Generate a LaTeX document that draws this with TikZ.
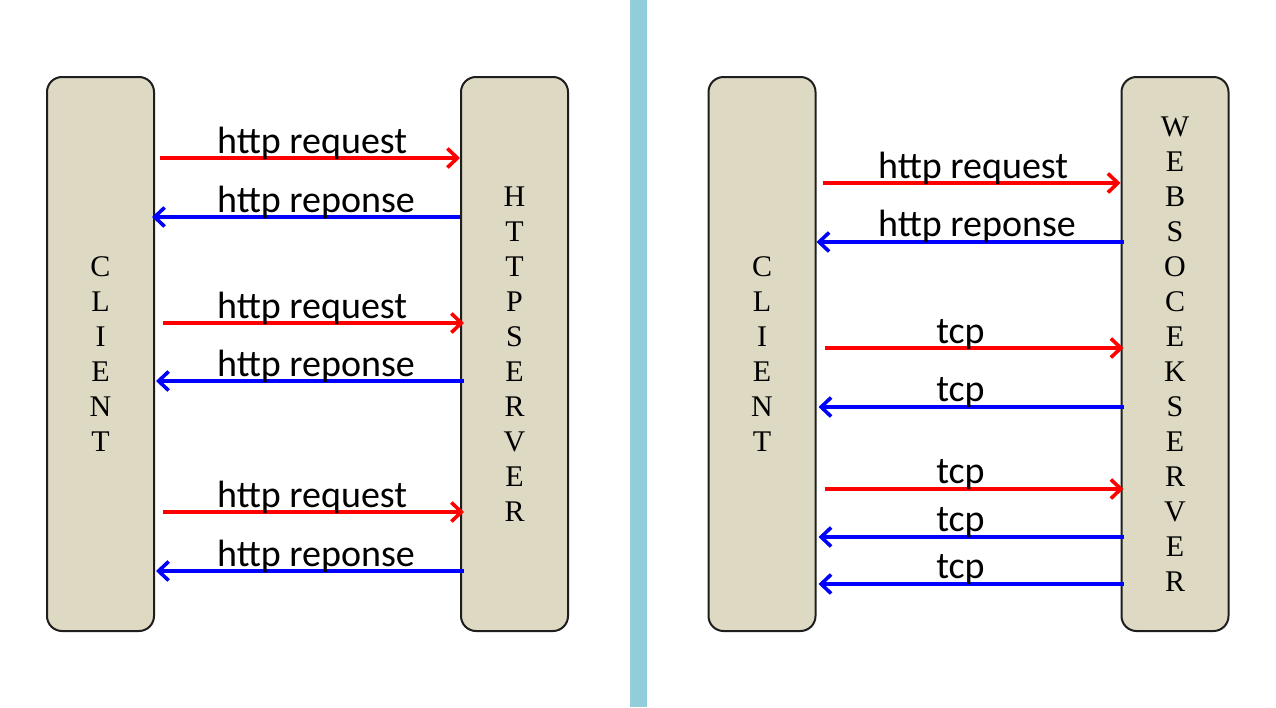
\documentclass[tikz,border=0pt]{standalone}
\usepackage{fontspec}
\setmainfont{Liberation Serif}
\newfontfamily\lblfont{Carlito}
\usetikzlibrary{arrows.meta,calc}
\definecolor{boxfill}{RGB}{221,217,195}
\definecolor{boxline}{RGB}{30,30,30}
\definecolor{divider}{RGB}{146,205,220}
\tikzset{
  party/.style={draw=boxline, line width=2pt, fill=boxfill, rounded corners=15pt,
    minimum width=107pt, minimum height=554pt, inner sep=0pt, align=center,
    font=\fontsize{30}{35}\selectfont},
  req/.style={draw=red, line width=3.6pt, -{Straight Barb[length=10pt,width=19pt,line width=3.6pt]}},
  resp/.style={draw=blue, line width=3.6pt, -{Straight Barb[length=10pt,width=19pt,line width=3.6pt]}},
  lbl/.style={font=\lblfont\fontsize{38}{42}\selectfont, inner sep=0pt, anchor=base west},
  lblc/.style={font=\lblfont\fontsize{38}{42}\selectfont, inner sep=0pt, anchor=base},
}
\begin{document}
\begin{tikzpicture}[x=1pt,y=-1pt]
\useasboundingbox (0,0) rectangle (1276,707);
\fill[white] (0,0) rectangle (1276,707);
\fill[divider] (630,0) rectangle (647,707);

\node[party] (c1) at (100.5,354) {C\\L\\I\\E\\N\\T};
\node[party] (s1) at (514.5,354) {H\\T\\T\\P\\S\\E\\R\\V\\E\\R};
\node[party] (c2) at (762,354) {C\\L\\I\\E\\N\\T};
\node[party] (s2) at (1175,354) {W\\E\\B\\S\\O\\C\\E\\K\\S\\E\\R\\V\\E\\R};

% left side
\draw[req]  ($(c1.east |- 0,158)+(5,0)$) -- (s1.west |- 0,158);
\draw[resp] (s1.west |- 0,217) -- ($(c1.east |- 0,217)+(-3,0)$);
\draw[req]  ($(c1.east |- 0,323)+(8,0)$) -- ($(s1.west |- 0,323)+(4,0)$);
\draw[resp] ($(s1.west |- 0,381)+(4,0)$) -- ($(c1.east |- 0,381)+(1,0)$);
\draw[req]  ($(c1.east |- 0,512)+(8,0)$) -- ($(s1.west |- 0,512)+(4,0)$);
\draw[resp] ($(s1.west |- 0,571)+(4,0)$) -- ($(c1.east |- 0,571)+(1,0)$);

\node[lbl] (l1) at (217,153) {http request};
\node[lbl] (l2) at (217,212) {http reponse};
\node[lbl] (l3) at (217,318) {http request};
\node[lbl] (l4) at (217,376) {http reponse};
\node[lbl] (l5) at (217,507) {http request};
\node[lbl] (l6) at (217,566) {http reponse};

% right side
\draw[req]  ($(c2.east |- 0,183)+(6,0)$) -- (s2.west |- 0,183);
\draw[resp] ($(s2.west |- 0,242)+(3,0)$) -- (c2.east |- 0,242);
\draw[req]  ($(c2.east |- 0,348)+(8,0)$) -- ($(s2.west |- 0,348)+(3,0)$);
\draw[resp] ($(s2.west |- 0,407)+(3,0)$) -- ($(c2.east |- 0,407)+(2,0)$);
\draw[req]  ($(c2.east |- 0,489)+(8,0)$) -- ($(s2.west |- 0,489)+(3,0)$);
\draw[resp] ($(s2.west |- 0,537)+(3,0)$) -- ($(c2.east |- 0,537)+(2,0)$);
\draw[resp] ($(s2.west |- 0,584)+(3,0)$) -- ($(c2.east |- 0,584)+(2,0)$);

\node[lbl] (r1) at (878,178) {http request};
\node[lbl] (r2) at (878,236) {http reponse};
\node[lblc] (r3) at (960.5,343) {tcp};
\node[lblc] (r4) at (960.5,401) {tcp};
\node[lblc] (r5) at (960.5,483) {tcp};
\node[lblc] (r6) at (960.5,531) {tcp};
\node[lblc] (r7) at (960.5,578) {tcp};
\end{tikzpicture}
\end{document}
